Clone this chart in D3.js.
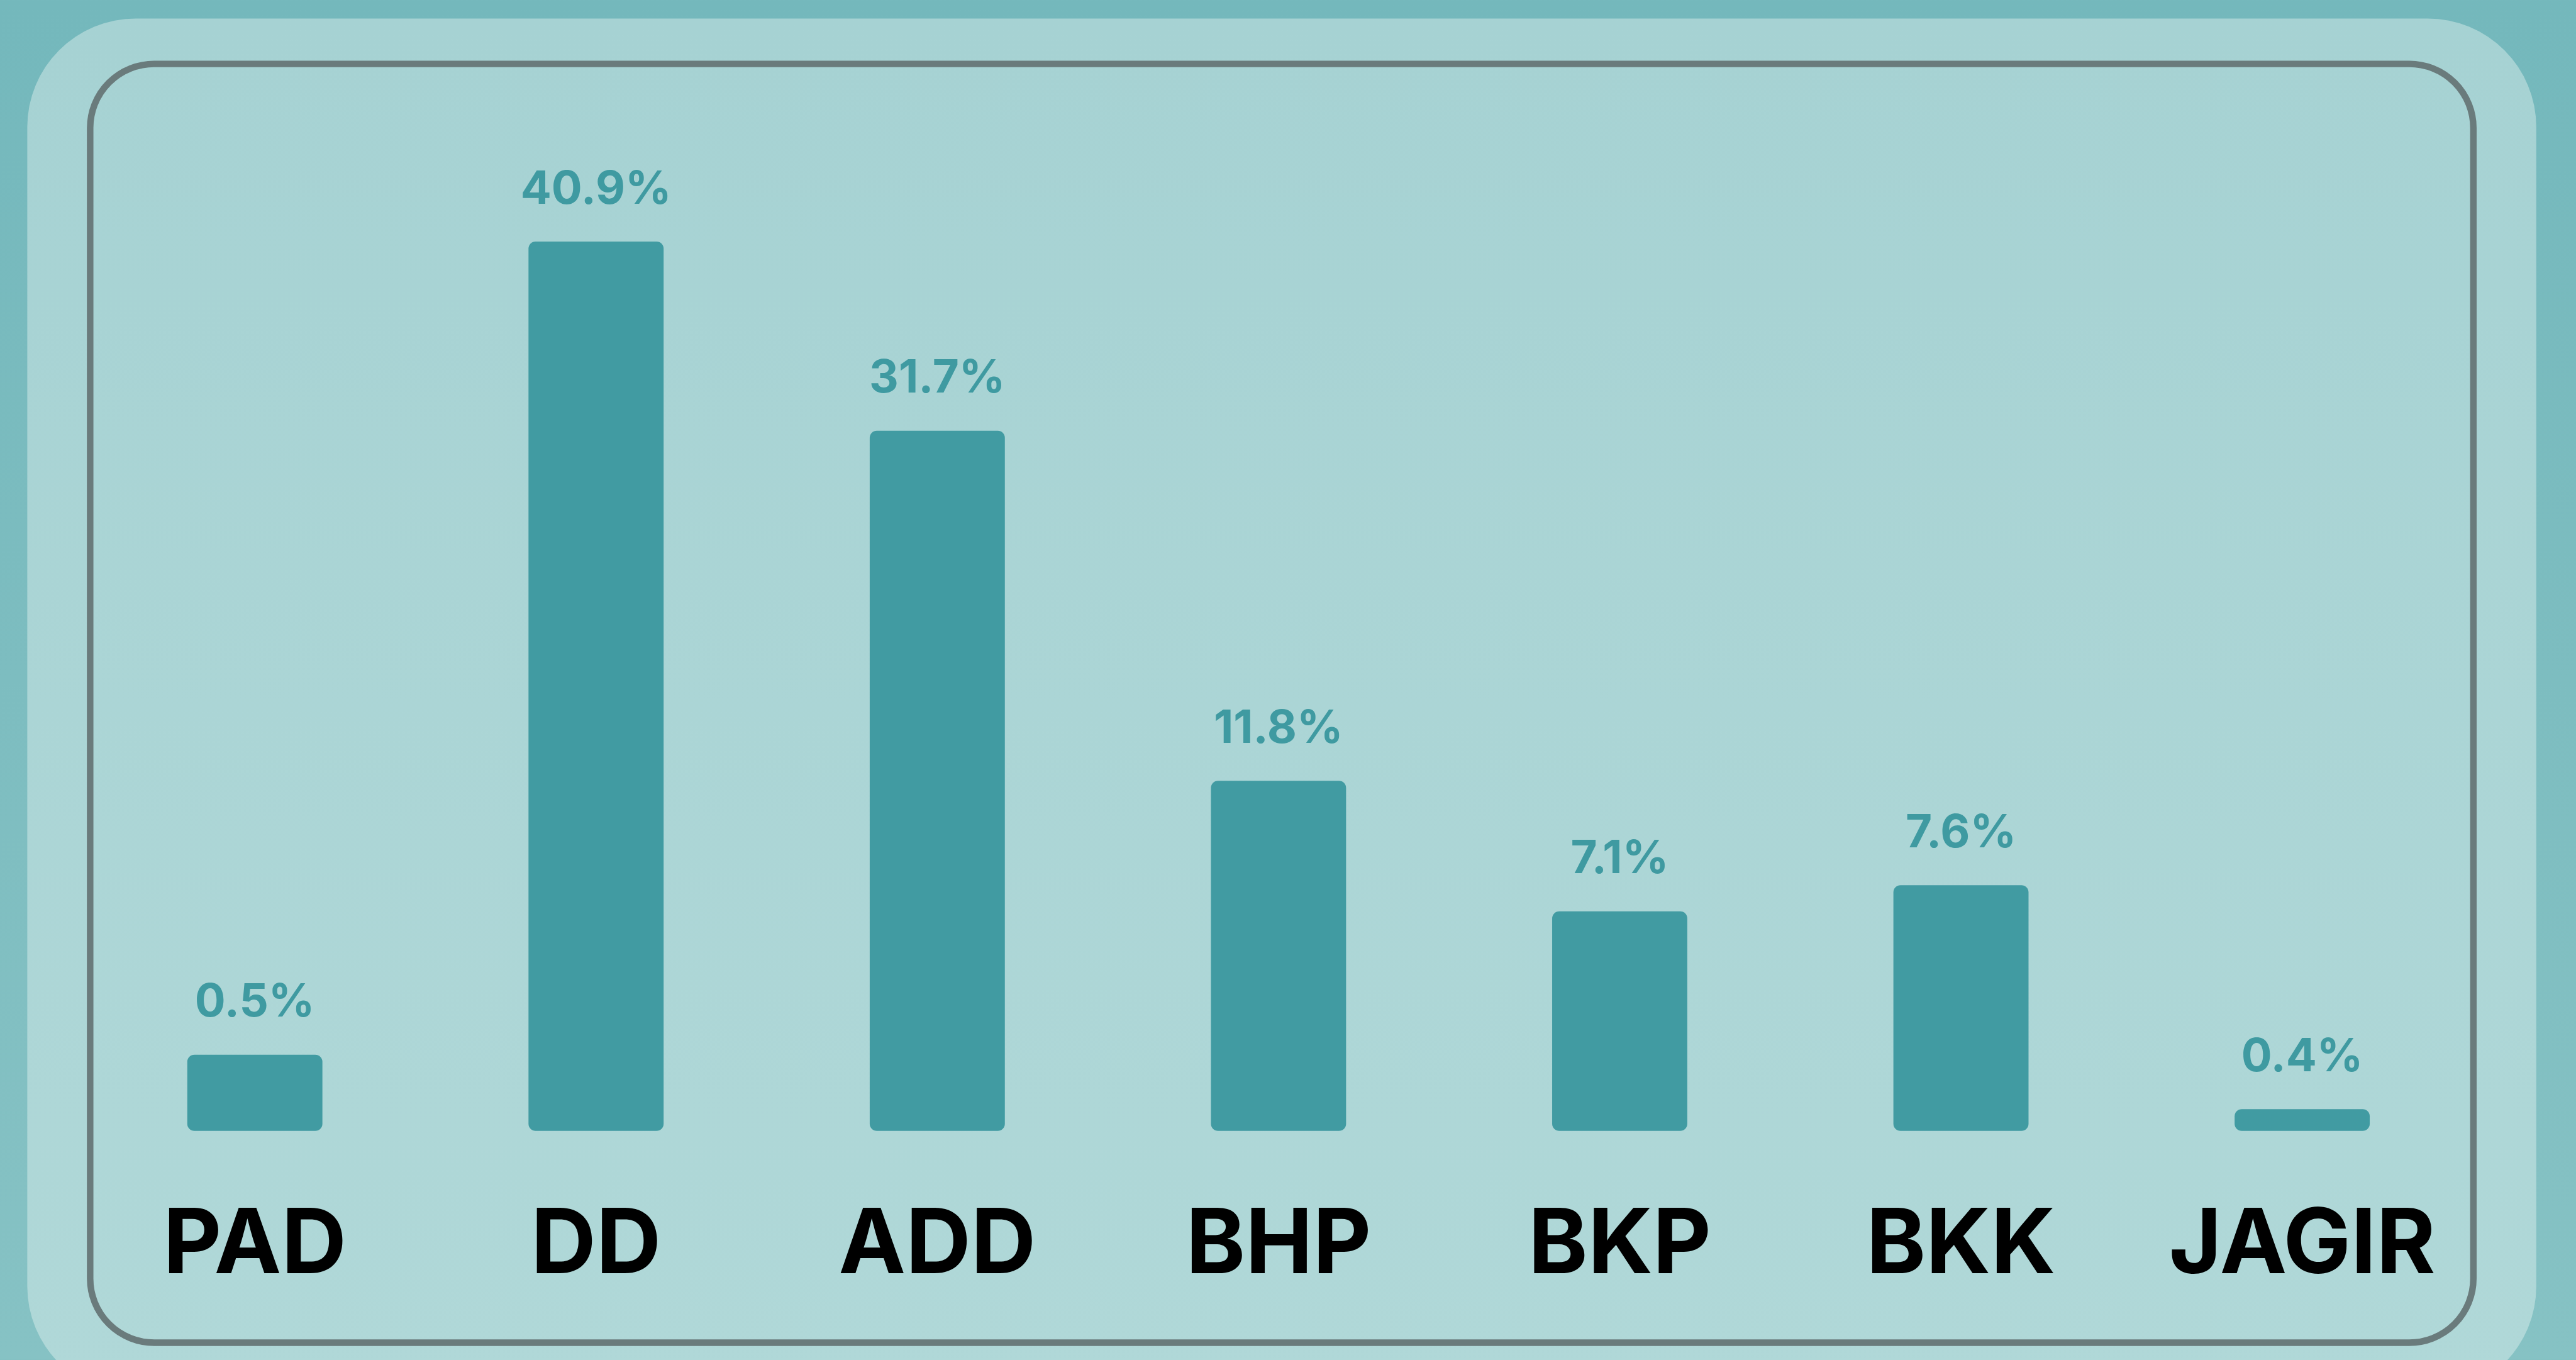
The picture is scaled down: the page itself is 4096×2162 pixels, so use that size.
<!DOCTYPE html>
<html>
<head>
<meta charset="utf-8">
<script src="https://cdn.jsdelivr.net/npm/d3@7"></script>
<style>
  html, body { margin: 0; padding: 0; overflow: hidden; background: #7cbcbf; }
  svg { display: block; }
</style>
</head>
<body>
<script>
// chart data
var categories = ["PAD", "DD", "ADD", "BHP", "BKP", "BKK", "JAGIR"];
var share_labels = [0.5, 40.9, 31.7, 11.8, 7.1, 7.6, 0.4]; // printed above the bars
// the bars in the picture are not drawn to the printed numbers,
// so their lengths are read off the picture (same units, DD = 40.9)
var bar_levels = [3.5, 40.9, 32.2, 16.1, 10.1, 11.3, 1.0];

// layout, in reference units (viewBox scales it to the window)
var W = 4343, H = 2292;
var base_y = 1906;
var top_y = 407;
var label_gap = 64;
var cat_label_y = 2146;

var bar_color = "#419ba2";
var value_color = "#3f9aa1";
var border_color = "#6a7b7c";

var svg = d3.select("body").append("svg")
    .attr("width", 4096)
    .attr("height", 2162)
    .attr("viewBox", "0 0 " + W + " " + H);

var defs = svg.append("defs");

var bg_grad = defs.append("linearGradient").attr("id", "bg_grad")
    .attr("x1", 0).attr("y1", 0).attr("x2", 0).attr("y2", 1);
bg_grad.append("stop").attr("offset", "0%").attr("stop-color", "#74b8bc");
bg_grad.append("stop").attr("offset", "100%").attr("stop-color", "#86c2c4");

var panel_grad = defs.append("linearGradient").attr("id", "panel_grad")
    .attr("x1", 0).attr("y1", 0).attr("x2", 0).attr("y2", 1);
panel_grad.append("stop").attr("offset", "0%").attr("stop-color", "#a6d2d3");
panel_grad.append("stop").attr("offset", "100%").attr("stop-color", "#b0d8d8");

// background
svg.append("rect")
    .attr("x", 0).attr("y", 0)
    .attr("width", W).attr("height", H)
    .style("fill", "url(#bg_grad)");

// light panel, runs off the bottom edge
svg.append("rect")
    .attr("x", 46).attr("y", 31)
    .attr("width", 4230).attr("height", 2320)
    .attr("rx", 183).attr("ry", 183)
    .style("fill", "url(#panel_grad)");

// inner frame
svg.append("rect")
    .attr("x", 152).attr("y", 107.5)
    .attr("width", 4018).attr("height", 2155.5)
    .attr("rx", 108).attr("ry", 108)
    .style("fill", "none")
    .style("stroke", border_color)
    .style("stroke-width", 11);

// scales
var x = d3.scaleBand()
    .domain(categories)
    .range([142, 4169])
    .paddingInner(0.604)
    .paddingOuter(0.302);

var y = d3.scaleLinear()
    .domain([0, 40.9])
    .range([base_y, top_y]);

var rows = categories.map(function(c, i){
  return {cat: c, share: share_labels[i], level: bar_levels[i]};
});

// bars
svg.append("g").selectAll("rect")
    .data(rows)
    .enter().append("rect")
    .attr("x", function(d){ return x(d.cat); })
    .attr("y", function(d){ return y(d.level); })
    .attr("width", x.bandwidth())
    .attr("height", function(d){ return base_y - y(d.level); })
    .attr("rx", 12).attr("ry", 12)
    .style("fill", bar_color);

// value labels
svg.append("g").selectAll("text")
    .data(rows)
    .enter().append("text")
    .attr("x", function(d){ return x(d.cat) + x.bandwidth()/2; })
    .attr("y", function(d){ return y(d.level) - label_gap; })
    .attr("text-anchor", "middle")
    .attr("font-family", "Inter, sans-serif")
    .attr("font-weight", 700)
    .attr("font-size", 77)
    .attr("fill", value_color)
    .text(function(d){ return d.share.toFixed(1) + "%"; });

// category labels
var x_axis = d3.axisBottom(x).tickSize(0).tickPadding(0);
var ax = svg.append("g")
    .attr("transform", "translate(0," + cat_label_y + ")")
    .call(x_axis);
ax.select(".domain").remove();
ax.selectAll("text")
    .attr("y", 0)
    .attr("dy", 0)
    .attr("font-family", "Inter, sans-serif")
    .attr("font-weight", 700)
    .attr("font-size", 152)
    .attr("fill", "#000");
</script>
</body>
</html>
